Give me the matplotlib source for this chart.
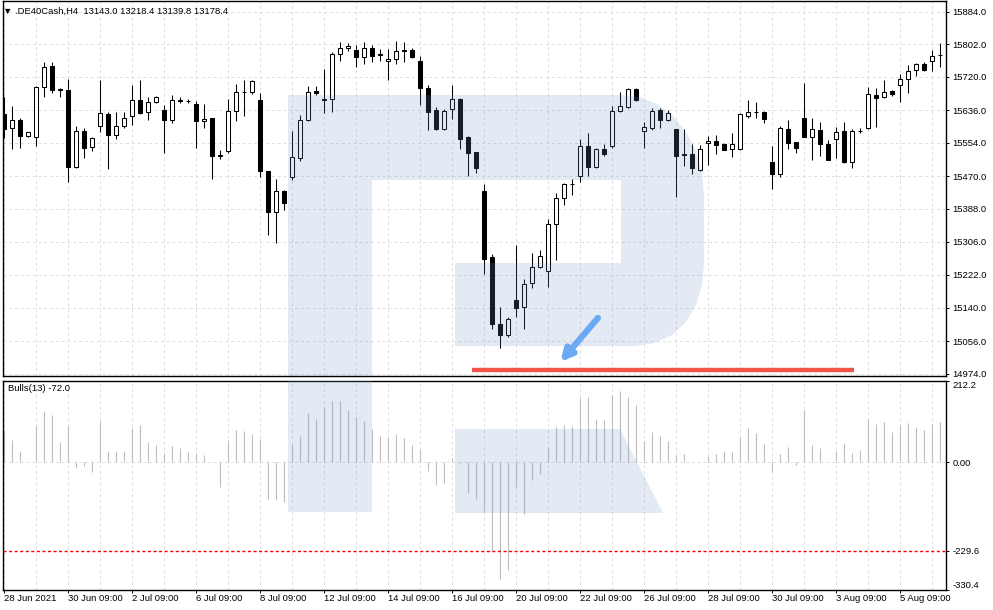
import matplotlib.pyplot as plt
import numpy as np
from matplotlib.patches import Polygon

# H4 candles, .DE40Cash, 28 Jun - 6 Aug 2021
opens = [15627, 15591, 15611, 15572, 15568, 15694, 15747, 15689, 15687, 15494,
         15584, 15543, 15596, 15627, 15575, 15596, 15623, 15661, 15632, 15657,
         15637, 15611, 15662, 15660, 15652, 15609, 15616, 15523, 15534, 15634,
         15681, 15683, 15661, 15483, 15381, 15433, 15468, 15517, 15612, 15684,
         15664, 15664, 15777, 15792, 15788, 15771, 15793, 15777, 15759, 15764,
         15787, 15788, 15760, 15691, 15637, 15589, 15640, 15665, 15570, 15531,
         15433, 15267, 15099, 15070, 15159, 15141, 15201, 15241, 15231, 15349,
         15415, 15452, 15472, 15546, 15493, 15539, 15547, 15634, 15645, 15690,
         15583, 15592, 15636, 15613, 15588, 15525, 15525, 15486, 15553, 15560,
         15551, 15538, 15538, 15623, 15632, 15631, 15505, 15475, 15589, 15556,
         15618, 15568, 15587, 15551, 15563, 15583, 15507, 15584, 15591, 15675,
         15669, 15684, 15700, 15714, 15737, 15752, 15760, 15775]
highs = [15670, 15647, 15616, 15582, 15697, 15757, 15757, 15693, 15715, 15597,
         15592, 15570, 15712, 15631, 15632, 15632, 15699, 15712, 15670, 15672,
         15649, 15675, 15670, 15665, 15660, 15652, 15616, 15536, 15664, 15702,
         15712, 15713, 15679, 15484, 15463, 15436, 15585, 15625, 15696, 15698,
         15740, 15782, 15807, 15805, 15800, 15807, 15800, 15790, 15790, 15810,
         15809, 15792, 15773, 15700, 15644, 15639, 15700, 15668, 15572, 15531,
         15450, 15275, 15142, 15117, 15298, 15211, 15278, 15285, 15362, 15427,
         15453, 15463, 15564, 15578, 15541, 15551, 15647, 15683, 15693, 15691,
         15606, 15641, 15641, 15636, 15590, 15588, 15551, 15549, 15571, 15574,
         15555, 15578, 15629, 15662, 15658, 15634, 15546, 15597, 15612, 15556,
         15704, 15616, 15606, 15561, 15593, 15606, 15588, 15592, 15694, 15691,
         15712, 15687, 15727, 15750, 15754, 15757, 15788, 15805]
lows = [15567, 15540, 15542, 15568, 15547, 15670, 15680, 15670, 15457, 15492,
        15516, 15535, 15582, 15489, 15563, 15591, 15600, 15628, 15613, 15655,
        15530, 15603, 15654, 15654, 15542, 15591, 15463, 15513, 15528, 15610,
        15623, 15677, 15468, 15322, 15302, 15385, 15461, 15508, 15609, 15675,
        15630, 15633, 15760, 15786, 15746, 15753, 15758, 15761, 15712, 15753,
        15758, 15767, 15649, 15587, 15587, 15587, 15614, 15539, 15472, 15479,
        15225, 15085, 15039, 15065, 15117, 15087, 15190, 15240, 15193, 15260,
        15398, 15424, 15457, 15472, 15490, 15522, 15542, 15631, 15643, 15660,
        15542, 15587, 15592, 15608, 15419, 15496, 15476, 15484, 15499, 15525,
        15536, 15519, 15536, 15616, 15618, 15605, 15437, 15468, 15538, 15530,
        15568, 15510, 15522, 15510, 15515, 15504, 15490, 15578, 15588, 15595,
        15666, 15672, 15658, 15679, 15722, 15734, 15736, 15746]
closes = [15590, 15611, 15572, 15581, 15694, 15744, 15688, 15688, 15494, 15584,
          15542, 15566, 15629, 15575, 15597, 15616, 15661, 15630, 15657, 15669,
          15611, 15661, 15660, 15659, 15608, 15614, 15522, 15520, 15634, 15681,
          15682, 15711, 15483, 15381, 15432, 15404, 15518, 15613, 15683, 15680,
          15661, 15777, 15792, 15798, 15771, 15792, 15773, 15775, 15764, 15785,
          15785, 15771, 15691, 15633, 15589, 15634, 15664, 15564, 15530, 15492,
          15263, 15100, 15070, 15111, 15140, 15199, 15241, 15269, 15349, 15415,
          15450, 15450, 15546, 15493, 15539, 15525, 15634, 15646, 15690, 15662,
          15593, 15634, 15613, 15629, 15522, 15523, 15490, 15538, 15560, 15550,
          15537, 15551, 15626, 15631, 15631, 15615, 15475, 15591, 15555, 15541,
          15568, 15589, 15551, 15512, 15582, 15506, 15583, 15585, 15676, 15666,
          15683, 15676, 15714, 15736, 15752, 15737, 15773, 15774]

# Bulls Power (13)
bulls = [84, 58, 30, 1, 95, 134, 124, 53, 95, -14,
         -9, -24, 108, 30, 30, 30, 90, 97, 53, 45,
         25, 43, 37, 27, 25, 19, 1, -63, 57, 84,
         82, 74, 61, -95, -97, -103, 45, 69, 129, 113,
         144, 160, 160, 137, 117, 108, 87, 69, 63, 74,
         63, 45, 32, -22, -58, -53, 10, -1, -79, -95,
         -126, -228, -304, -280, -63, -134, -45, -30, 41, 92,
         97, 95, 168, 170, 113, 110, 176, 186, 170, 150,
         56, 79, 69, 56, 19, 22, 1, 1, 17, 22,
         30, 27, 66, 90, 77, 48, -23, 22, 40, -6,
         137, 45, 37, 1, 30, 50, 24, 32, 113, 100,
         105, 79, 97, 103, 92, 84, 100, 105]

date_labels = ['28 Jun 2021', '30 Jun 09:00', '2 Jul 09:00', '6 Jul 09:00',
               '8 Jul 09:00', '12 Jul 09:00', '14 Jul 09:00', '16 Jul 09:00',
               '20 Jul 09:00', '22 Jul 09:00', '26 Jul 09:00', '28 Jul 09:00',
               '30 Jul 09:00', '3 Aug 09:00', '5 Aug 09:00']
price_ticks = [14974.0, 15056.0, 15140.0, 15222.0, 15306.0, 15388.0,
               15470.0, 15554.0, 15636.0, 15720.0, 15802.0, 15884.0]
bulls_ticks = [-330.4, -229.6, 0.0, 212.2]
bulls_labels = ['-330.4', '-229.6', '0.00', '212.2']
bulls_level = -229.6
support_price = 14983
support_from, support_to = 58.6, 106.3
arrow_from = (74.3, 15114)
arrow_to = (69.6, 15003)

W, H = 993, 610
FS = 6.8
plt.rcParams['font.family'] = ['Liberation Sans', 'DejaVu Sans']
plt.rcParams['font.size'] = FS

o = np.array(opens, float)
h = np.array(highs, float)
l = np.array(lows, float)
c = np.array(closes, float)
x = np.arange(len(o))
up = c >= o


def fig_rect(left, top, right, bottom):
    return [left / W, 1 - bottom / H, (right - left) / W, (bottom - top) / H]


fig = plt.figure(figsize=(W / 100, H / 100), dpi=100)
ax = fig.add_axes(fig_rect(2.5, 1, 946, 376))
ax2 = fig.add_axes(fig_rect(2.5, 380.6, 946, 589.6))

grid_kw = dict(color='#dedede', lw=0.7, linestyle=(0, (3, 3)))

# --- price panel
ax.vlines(x, l, h, color='black', lw=0.75, zorder=2)
bottoms = np.minimum(o, c)
heights = np.maximum(np.abs(c - o), 0.8)
ax.bar(x[up], heights[up], bottom=bottoms[up], width=0.5,
       facecolor='white', edgecolor='black', lw=0.75, zorder=3)
ax.bar(x[~up], heights[~up], bottom=bottoms[~up], width=0.5,
       facecolor='black', edgecolor='black', lw=0.75, zorder=3)

ax.set_xlim(-0.125, 117.81)
ax.set_ylim(14968, 15911)
ax.set_yticks(price_ticks)
ax.set_yticklabels(['%.1f' % p for p in price_ticks])
ax.yaxis.tick_right()
ax.set_xticks(np.arange(0, len(x), 4))
ax.tick_params(axis='x', length=0, labelbottom=False)
ax.grid(True, **grid_kw)
ax.set_axisbelow(True)

ax.hlines(support_price, support_from, support_to, color='#f25546', lw=3.2, zorder=7)
ax.annotate('', xy=arrow_to, xytext=arrow_from,
            arrowprops=dict(arrowstyle='-|>', color='#6aa9f3', lw=4.5,
                            mutation_scale=17, shrinkA=0, shrinkB=0), zorder=7)

# --- bulls power panel
ax2.vlines(x, 0, bulls, color='#bdbdbd', lw=0.8, zorder=2)
ax2.axhline(bulls_level, color='#ff0000', lw=1.0, linestyle=(0, (2.2, 1.8)), zorder=3)
ax2.set_xlim(-0.125, 117.81)
ax2.set_ylim(-330.4, 212.2)
ax2.set_yticks(bulls_ticks)
ax2.set_yticklabels(bulls_labels)
ax2.yaxis.tick_right()
ax2.set_xticks(np.arange(0, len(x), 8))
ax2.set_xticklabels(date_labels)
ax2.set_xticks(np.arange(0, len(x), 4), minor=True)
ax2.tick_params(axis='x', which='minor', length=0)
ax2.tick_params(axis='x', which='major', direction='out', length=2.5, width=0.7,
                pad=0.8, labelsize=FS)
for lbl in ax2.get_xticklabels():
    lbl.set_ha('left')
ax2.grid(True, axis='x', which='both', **grid_kw)
ax2.axhline(0, zorder=1, **grid_kw)
ax2.set_axisbelow(True)
ylbls = ax2.get_yticklabels()
ylbls[0].set_va('bottom')
ylbls[-1].set_va('top')

for a in (ax, ax2):
    a.tick_params(axis='y', direction='out', length=2.5, width=0.7, pad=2, labelsize=FS)
    for s in a.spines.values():
        s.set_linewidth(1.0)
        s.set_color('black')

ax2.text(0.006, 0.985, 'Bulls(13) -72.0', transform=ax2.transAxes,
         ha='left', va='top', fontsize=FS)
fig.text(3 / W, 1 - 11 / H, '\u25bc .DE40Cash,H4  13143.0 13218.4 13139.8 13178.4',
         ha='left', va='center', fontsize=FS)

# --- watermark logo (pixel outline of the background "R")
r_body = [(288, 95), (620, 95), (640, 97), (657, 104), (673, 116), (686, 132),
          (696, 151), (702, 172), (704, 195), (704, 262), (702, 285), (696, 305),
          (686, 322), (672, 335), (655, 343), (635, 346), (455, 346), (455, 263),
          (621, 263), (621, 180), (372, 180), (372, 512), (288, 512)]
r_leg = [(455, 429), (620, 429), (663, 513), (455, 513)]
for a in (ax, ax2):
    for shape in (r_body, r_leg):
        pts = [(px / W, 1 - py / H) for px, py in shape]
        a.add_patch(Polygon(pts, closed=True, transform=fig.transFigure,
                            facecolor='#7896c3', edgecolor='none', alpha=0.2, zorder=5))

fig.savefig('out.png', dpi=100)
